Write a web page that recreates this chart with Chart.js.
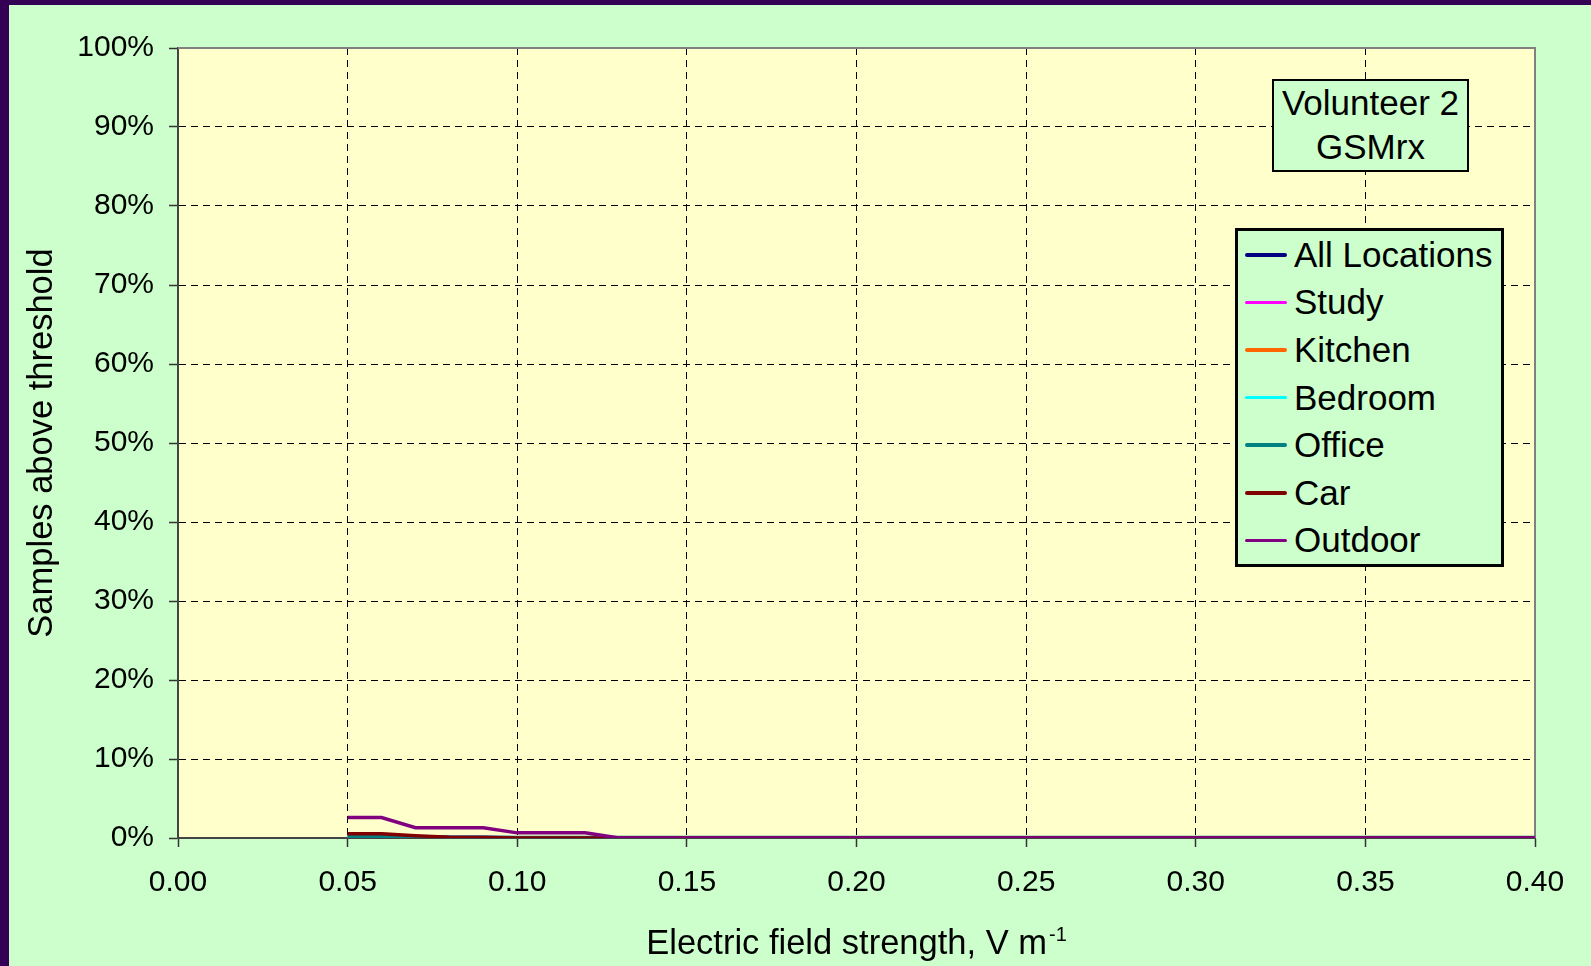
<!DOCTYPE html>
<html>
<head>
<meta charset="utf-8">
<title>Volunteer 2 GSMrx</title>
<script src="https://cdn.jsdelivr.net/npm/chart.js@4.4.1/dist/chart.umd.min.js"></script>
<style>
    body {
        margin: 0;
        width: 1591px;
        height: 966px;
        overflow: hidden;
        background: #330055;
        font-family: "Liberation Sans", Arial, sans-serif;
    }
    #wrap {
        position: absolute;
        left: 9px;
        top: 5px;
        width: 1582px;
        height: 961px;
        background: #CCFFCC;
    }
    #note {
        position: absolute;
        left: 1272px;
        top: 79px;
        width: 193px;
        height: 89px;
        border: 2.5px solid #000;
        background: #CCFFCC;
        text-align: center;
        font-size: 35px;
        line-height: 44px;
        color: #000;
    }
    #legend {
        position: absolute;
        left: 1235px;
        top: 228px;
        width: 263px;
        padding: 0;
        border: 3.5px solid #000;
        background: #CCFFCC;
    }
    #legend .row {
        display: flex;
        align-items: center;
        height: 47.6px;
        font-size: 35px;
        color: #000;
    }
    #legend .swatch {
        width: 42px;
        margin-left: 7px;
        margin-right: 7px;
        border-radius: 2px;
    }
</style>
</head>
<body>
<div id="wrap"><canvas id="chart"></canvas></div>
<div id="note">Volunteer 2<br>GSMrx</div>
<div id="legend"></div>

<script>
// Threshold, V/m
const thresholds = [0.05, 0.06, 0.07, 0.08, 0.09, 0.10, 0.11, 0.12, 0.13, 0.14, 0.15, 0.16,
    0.17, 0.18, 0.19, 0.20, 0.21, 0.22, 0.23, 0.24, 0.25, 0.26, 0.27, 0.28,
    0.29, 0.30, 0.31, 0.32, 0.33, 0.34, 0.35, 0.36, 0.37, 0.38, 0.39, 0.40];

// Samples above threshold, %
const allLocations = [0.35, 0.35, 0.15, 0.08, 0.08, 0.04, 0.04, 0.04, 0, 0, 0, 0,
    0, 0, 0, 0, 0, 0, 0, 0, 0, 0, 0, 0, 0, 0, 0, 0, 0, 0, 0, 0, 0, 0, 0, 0];
const study = [0, 0, 0, 0, 0, 0, 0, 0, 0, 0, 0, 0,
    0, 0, 0, 0, 0, 0, 0, 0, 0, 0, 0, 0, 0, 0, 0, 0, 0, 0, 0, 0, 0, 0, 0, 0];
const kitchen = [0, 0, 0, 0, 0, 0, 0, 0, 0, 0, 0, 0,
    0, 0, 0, 0, 0, 0, 0, 0, 0, 0, 0, 0, 0, 0, 0, 0, 0, 0, 0, 0, 0, 0, 0, 0];
const bedroom = [0, 0, 0, 0, 0, 0, 0, 0, 0, 0, 0, 0,
    0, 0, 0, 0, 0, 0, 0, 0, 0, 0, 0, 0, 0, 0, 0, 0, 0, 0, 0, 0, 0, 0, 0, 0];
const office = [0.2, 0.2, 0.05, 0, 0, 0, 0, 0, 0, 0, 0, 0,
    0, 0, 0, 0, 0, 0, 0, 0, 0, 0, 0, 0, 0, 0, 0, 0, 0, 0, 0, 0, 0, 0, 0, 0];
const car = [0.55, 0.55, 0.3, 0.1, 0.05, 0, 0, 0, 0, 0, 0, 0,
    0, 0, 0, 0, 0, 0, 0, 0, 0, 0, 0, 0, 0, 0, 0, 0, 0, 0, 0, 0, 0, 0, 0, 0];
const outdoor = [2.6, 2.6, 1.3, 1.3, 1.3, 0.65, 0.65, 0.65, 0, 0, 0, 0,
    0, 0, 0, 0, 0, 0, 0, 0, 0, 0, 0, 0, 0, 0, 0, 0, 0, 0, 0, 0, 0, 0, 0, 0];

const seriesNames = ['All Locations', 'Study', 'Kitchen', 'Bedroom', 'Office', 'Car', 'Outdoor'];
const seriesValues = [allLocations, study, kitchen, bedroom, office, car, outdoor];
const seriesColors = ['#000080', '#FF00FF', '#FF6600', '#00FFFF', '#008080', '#800000', '#800080'];
const seriesWidths = [3.5, 3.5, 3.5, 3.5, 4.5, 3.5, 3.5];

const FONT = '"Liberation Sans", Arial, sans-serif';

// plot background, frame and axis titles (x title has a superscript)
const decorPlugin = {
    id: 'decor',
    beforeDraw(chart) {
        const { ctx, chartArea: a } = chart;
        ctx.save();
        ctx.fillStyle = '#FFFFCC';
        ctx.fillRect(a.left, a.top, a.right - a.left, a.bottom - a.top);
        ctx.restore();
    },
    beforeDatasetsDraw(chart) {
        const { ctx, chartArea: a } = chart;
        ctx.save();
        ctx.strokeStyle = '#808080';
        ctx.lineWidth = 2;
        ctx.beginPath();
        ctx.moveTo(a.left, a.top);
        ctx.lineTo(a.right, a.top);
        ctx.lineTo(a.right, a.bottom);
        ctx.stroke();
        ctx.restore();
    },
    afterDraw(chart) {
        const { ctx, chartArea: a } = chart;
        ctx.save();
        ctx.fillStyle = '#000';

        // y title
        ctx.font = '34.5px ' + FONT;
        ctx.textAlign = 'center';
        ctx.textBaseline = 'alphabetic';
        ctx.translate(42.5, (a.top + a.bottom) / 2);
        ctx.rotate(-Math.PI / 2);
        ctx.fillText('Samples above threshold', 0, 0);
        ctx.setTransform(1, 0, 0, 1, 0, 0);
        ctx.scale(chart.currentDevicePixelRatio, chart.currentDevicePixelRatio);

        // x title
        const main = 'Electric field strength, V m';
        const sup = '-1';
        ctx.font = '34.5px ' + FONT;
        const mw = ctx.measureText(main).width;
        ctx.font = '20px ' + FONT;
        const sw = ctx.measureText(sup).width;
        const total = mw + 2 + sw;
        const x0 = (a.left + a.right) / 2 - total / 2;
        ctx.textAlign = 'left';
        ctx.font = '34.5px ' + FONT;
        ctx.fillText(main, x0, 949);
        ctx.font = '20px ' + FONT;
        ctx.fillText(sup, x0 + mw + 2, 936);
        ctx.restore();
    }
};

document.addEventListener('DOMContentLoaded', function () {
    renderLegend();
    renderChart();
});

function renderLegend() {
    const box = document.getElementById('legend');
    seriesNames.forEach((name, i) => {
        const row = document.createElement('div');
        row.className = 'row';
        row.innerHTML = `<span class="swatch" style="height:${seriesWidths[i]}px;background:${seriesColors[i]}"></span><span>${name}</span>`;
        box.appendChild(row);
    });
}

function renderChart() {
    const ctx = document.getElementById('chart').getContext('2d');

    const datasets = seriesNames.map((name, i) => ({
        label: name,
        data: thresholds.map((t, j) => ({ x: t, y: seriesValues[i][j] })),
        borderColor: seriesColors[i],
        backgroundColor: seriesColors[i],
        borderWidth: seriesWidths[i],
        pointRadius: 0,
        tension: 0,
        fill: false,
        order: seriesNames.length - 1 - i   // Outdoor drawn on top, like the original
    }));

    new Chart(ctx, {
        type: 'line',
        data: { datasets },
        plugins: [decorPlugin],
        options: {
            responsive: true,
            maintainAspectRatio: false,
            animation: false,
            layout: { padding: { top: 43, right: 56, left: 0, bottom: 0 } },
            plugins: {
                legend: { display: false },
                tooltip: { enabled: false }
            },
            scales: {
                x: {
                    type: 'linear',
                    min: 0,
                    max: 0.4,
                    afterFit: s => { s.height = 128; },
                    ticks: {
                        stepSize: 0.05,
                        callback: v => v.toFixed(2),
                        color: '#000',
                        font: { family: FONT, size: 30 },
                        padding: 18,
                        maxRotation: 0
                    },
                    grid: { color: '#000', lineWidth: 1, tickLength: 9, tickColor: '#333', tickWidth: 1.5 },
                    border: { display: true, color: '#444', width: 2, dash: [7, 5] }
                },
                y: {
                    min: 0,
                    max: 100,
                    afterFit: s => { s.width = 169; },
                    ticks: {
                        stepSize: 10,
                        callback: v => v + '%',
                        color: '#000',
                        font: { family: FONT, size: 30 },
                        padding: 15
                    },
                    grid: { color: '#000', lineWidth: 1, tickLength: 9, tickColor: '#333', tickWidth: 1.5 },
                    border: { display: true, color: '#444', width: 2, dash: [7, 5] }
                }
            }
        }
    });
}
</script>
</body>
</html>
